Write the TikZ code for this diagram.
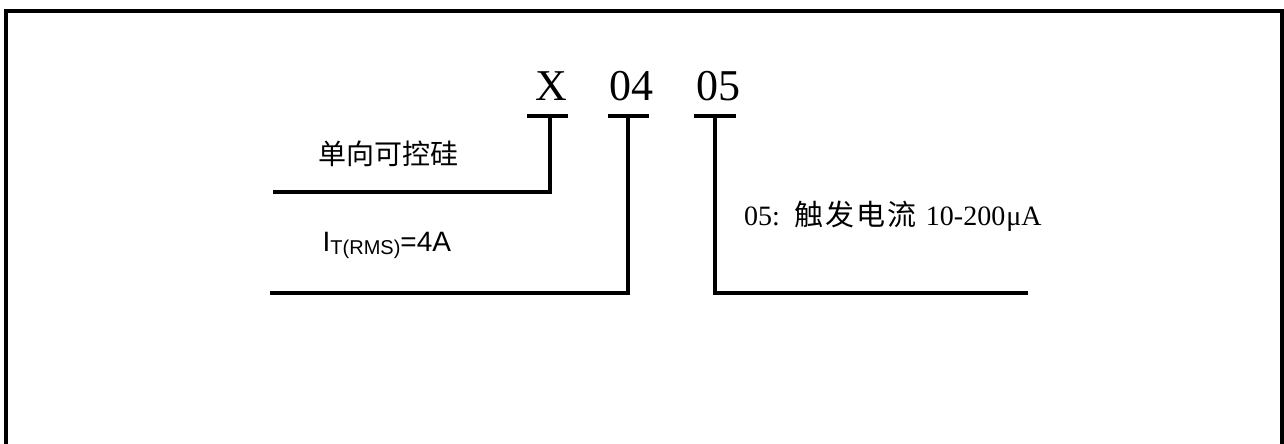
\documentclass[tikz,border=0pt]{standalone}
\usepackage{fontspec}
\setmainfont{Liberation Serif}
\setsansfont{Liberation Sans}
\newfontfamily\cjk{Noto Sans CJK SC}
\usetikzlibrary{positioning}
\usetikzlibrary{calc}
\tikzset{%
  code/.style = {inner sep=0pt,anchor=base,
        font=\fontsize{44}{44}\selectfont},
  ln/.style = {line width=4pt},
  lbl/.style = {inner sep=0pt,anchor=base west}
}
\newcommand{\lowsub}[1]{\raisebox{-3pt}{\fontsize{20}{20}\selectfont #1}}

\begin{document}
\begin{tikzpicture}[x=1pt,y=-1pt]
    \useasboundingbox (0,0) rectangle (1284,444);
    % frame, open at the bottom
    \draw[line width=4pt] (6,470) -- (6,11) -- (1282,11) -- (1282,470);

    \node[code] (x)  at (551,100) {X};
    \node[code] (c04) at (631,100) {04};
    \node[code] (c05) at (718,100) {05};

    \coordinate (xa) at (527,116);
    \coordinate (xb) at (568,116);
    \coordinate (xm) at (550,116);
    \coordinate (xe) at (273,192);
    \coordinate (oa) at (608,116);
    \coordinate (ob) at (649,116);
    \coordinate (om) at (628,116);
    \coordinate (oe) at (270,293);
    \coordinate (fa) at (694,116);
    \coordinate (fb) at (736,116);
    \coordinate (fm) at (715,116);
    \coordinate (fe) at (1028,293);

    \draw[ln] (xa) -- (xb);
    \draw[ln] (xm) |- (xe);
    \draw[ln] (oa) -- (ob);
    \draw[ln] (om) |- (oe);
    \draw[ln] (fa) -- (fb);
    \draw[ln] (fm) |- (fe);

    \node[lbl,font=\cjk\fontsize{28}{28}\selectfont] (type) at (318,164) {单向可控硅};
    \node[lbl,font=\sffamily\fontsize{28}{28}\selectfont] (cur) at (322.5,251)
        {I\lowsub{T(RMS)}=4A};
    \node[lbl,font=\fontsize{28}{28}\selectfont] (trig) at (744,225)
        {05:\hspace{15pt}{\cjk\fontsize{29}{29}\selectfont 触\kern2pt发\kern2pt电\kern2pt流}\hspace{9pt}10-200\kern1ptμA};
\end{tikzpicture}
\end{document}
